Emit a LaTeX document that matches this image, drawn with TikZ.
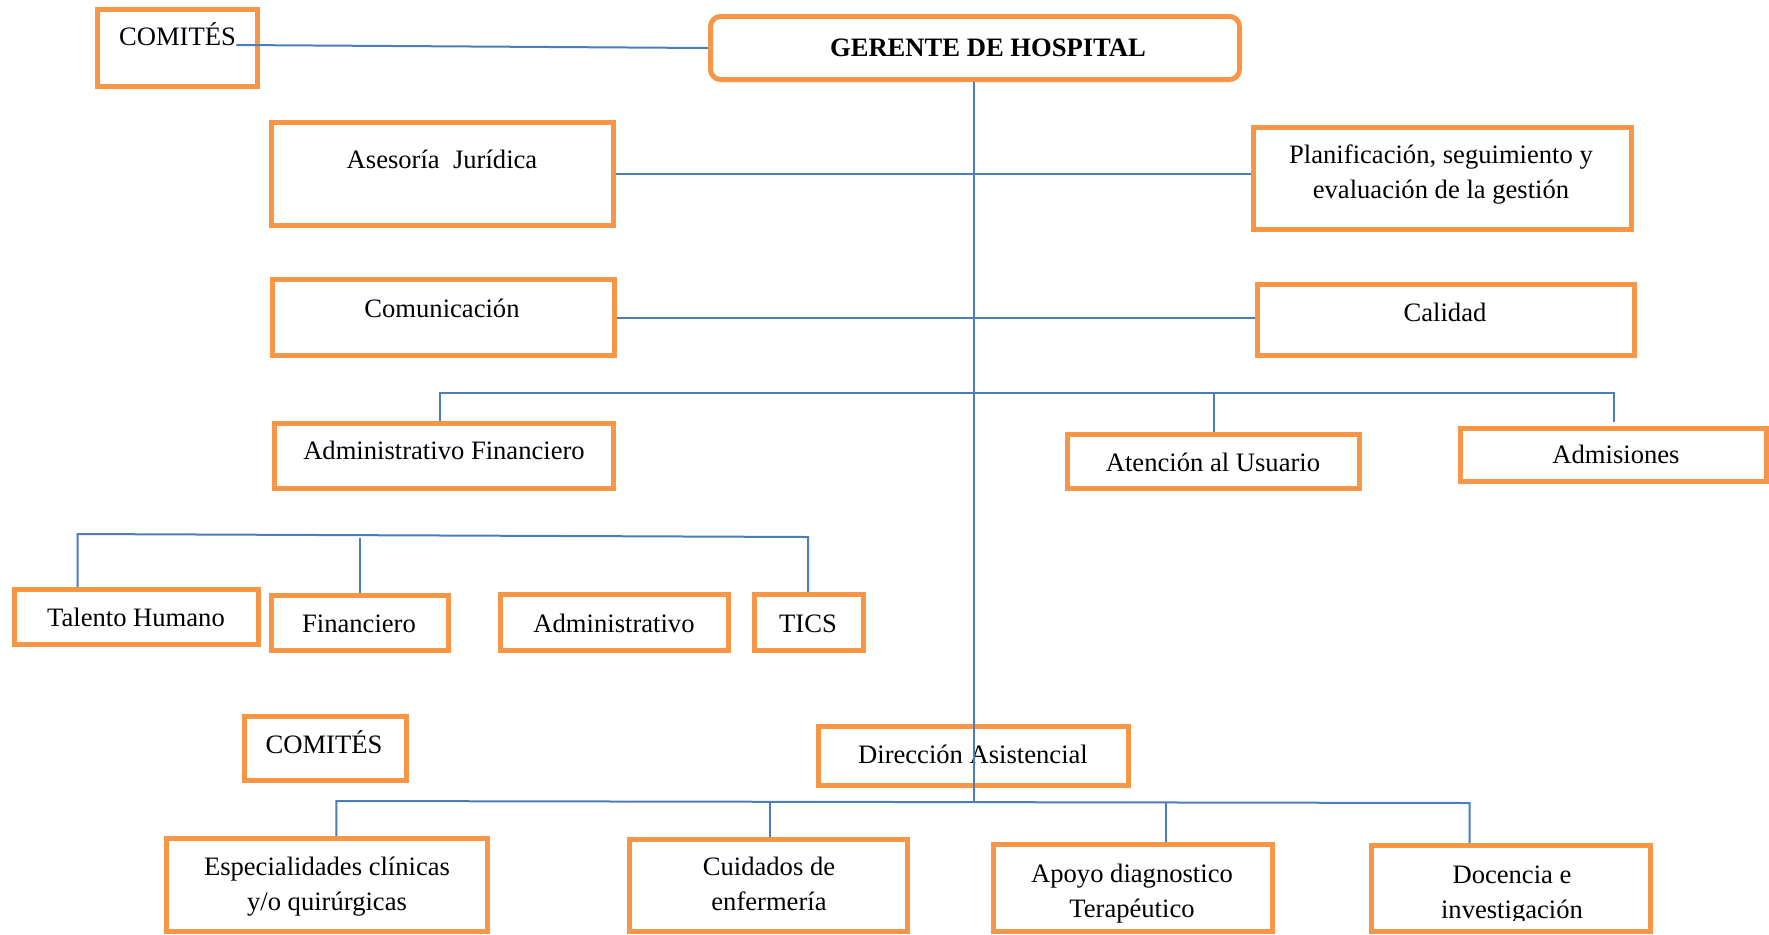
\documentclass[tikz,border=0pt]{standalone}
\usepackage{fontspec}
\setmainfont{Liberation Serif}
\usetikzlibrary{fit}
\definecolor{boxorange}{HTML}{F79646}
\definecolor{lineblue}{HTML}{4A7EBB}
\tikzset{
  box/.style={draw=boxorange, line width=2.5pt, inner sep=0pt, rectangle},
  conn/.style={draw=lineblue, line width=1pt},
  txt/.style={anchor=base, inner sep=0pt, font=\fontsize{13.3}{17.5}\selectfont},
}
\newcommand{\twol}[2]{\begin{tabular}[t]{@{}c@{}}#1\\#2\end{tabular}}
\begin{document}
\begin{tikzpicture}[x=0.5pt, y=-0.5pt]
\useasboundingbox (0,0) rectangle (1769,934);
\clip (0,0) rectangle (1769,934);
\fill[white] (0,0) rectangle (1769,934);

% boxes
\node[box, fit={(97.5,9.5) (257.5,86.5)}] (cmt1) {};
\node[box, rounded corners=5pt, fit={(710.5,16.5) (1239.5,79.5)}] (ger) {};
\node[box, fit={(271.5,122.5) (613.5,225.5)}] (ase) {};
\node[box, fit={(1253.5,127.5) (1631.5,229.5)}] (plan) {};
\node[box, fit={(272.5,279.5) (614.5,355.5)}] (com) {};
\node[box, fit={(1257.5,284.5) (1634.5,355.5)}] (cal) {};
\node[box, fit={(274,423.5) (613.5,488.5)}] (admf) {};
\node[box, fit={(1067.5,434.5) (1359.5,488.5)}] (ate) {};
\node[box, fit={(1460.5,428.5) (1766.5,481)}] (adm) {};
\node[box, fit={(14,589.5) (258.5,644.5)}] (tal) {};
\node[box, fit={(271.5,595.5) (448.5,650.5)}] (fin) {};
\node[box, fit={(500.5,594.5) (728.5,650.5)}] (admi) {};
\node[box, fit={(754.5,594.5) (863.5,650.5)}] (tics) {};
\node[box, fit={(244.5,716.5) (406.5,780.5)}] (cmt2) {};
\node[box, fit={(818.5,726.5) (1128.5,785.5)}] (dir) {};
\node[box, fit={(166.5,838.5) (487.5,931.5)}] (esp) {};
\node[box, fit={(629.5,839.5) (907.5,931.5)}] (cui) {};
\node[box, fit={(993,844.5) (1272.5,931.5)}] (apo) {};
\node[box, fit={(1371.5,845.5) (1650.5,931.5)}] (doc) {};

% texts
\node[txt] (t-cmt1) at (177.5,45) {COMITÉS};
\node[txt, font=\fontsize{13.3}{17.5}\selectfont\bfseries] (t-ger) at (988,56) {GERENTE DE HOSPITAL};
\node[txt] (t-ase) at (442,168) {Asesoría\ \ Jurídica};
\node[txt] (t-plan) at (1441,163) {\twol{Planificación, seguimiento y}{evaluación de la gestión}};
\node[txt] (t-com) at (442,317) {Comunicación};
\node[txt] (t-cal) at (1445,321) {Calidad};
\node[txt] (t-admf) at (444,459) {Administrativo Financiero};
\node[txt] (t-ate) at (1213,471) {Atención al Usuario};
\node[txt] (t-adm) at (1616,463) {Admisiones};
\node[txt] (t-tal) at (136,626) {Talento Humano};
\node[txt] (t-fin) at (359,632) {Financiero};
\node[txt] (t-admi) at (614,632) {Administrativo};
\node[txt] (t-tics) at (808,632) {TICS};
\node[txt] (t-cmt2) at (324,753) {COMITÉS};
\node[txt] (t-dir) at (973,763) {Dirección Asistencial};
\node[txt] (t-esp) at (327,875) {\twol{Especialidades clínicas}{y/o quirúrgicas}};
\node[txt] (t-cui) at (769,875) {\twol{Cuidados de}{enfermería}};
\node[txt] (t-apo) at (1132,882) {\twol{Apoyo diagnostico}{Terapéutico}};
\begin{scope}
\clip (1380,850) rectangle (1645,920);
\node[txt] (t-doc) at (1512,883) {\twol{Docencia e}{investigación}};
\end{scope}

% connector coordinates
\coordinate (trunkbot) at (973.5,802);
\coordinate (h1L) at (440,393.3);
\coordinate (h1R) at (1614,393.3);
\coordinate (h1Rend) at (1614,422);
\coordinate (h2L) at (77.5,534);
\coordinate (h2R) at (808,537);
\coordinate (fintop) at (360,538);
\coordinate (h3L) at (336.4,801);
\coordinate (h3R) at (1469.6,803);
\coordinate (c3) at (770,801.8);
\coordinate (a3) at (1166,802.4);

% connectors
\draw[conn] (t-cmt1.base east) -- (ger.west);
\draw[conn] (ger.south -| trunkbot) -- (trunkbot);
\draw[conn] (ase.east) -- (ase.east -| plan.west);
\draw[conn] (com.east) -- (com.east -| cal.west);
\draw[conn] (h1L |- admf.north) -- (h1L) -- (h1R) -- (h1Rend);
\draw[conn] (h1L -| ate.north) -- (ate.north);
\draw[conn] (h2L |- tal.north) -- (h2L) -- (h2R) -- (h2R |- tics.north);
\draw[conn] (fintop) -- (fin.north);
\draw[conn] (h3L |- esp.north) -- (h3L) -- (h3R) -- (h3R |- doc.north);
\draw[conn] (c3) -- (c3 |- cui.north);
\draw[conn] (a3) -- (a3 |- apo.north);
\end{tikzpicture}
\end{document}
